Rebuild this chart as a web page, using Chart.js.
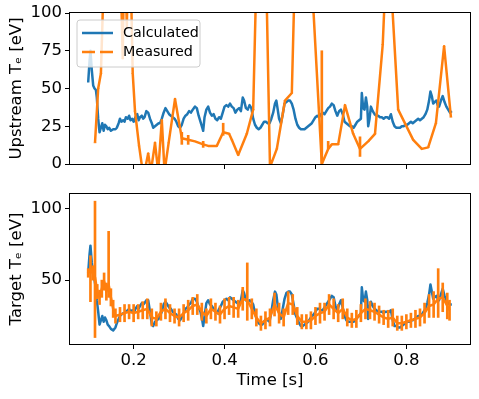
<!DOCTYPE html>
<html>
<head>
<meta charset="utf-8">
<script src="https://cdn.jsdelivr.net/npm/chart.js@4"></script>
<style>
  body { margin: 0; background: #fff; }
  #wrap { position: relative; width: 479px; height: 399px; }
  canvas { position: absolute; left: 0; }
</style>
</head>
<body>
<div id="wrap">
  <canvas id="upper" width="479" height="180" style="top:0"></canvas>
  <canvas id="lower" width="479" height="219" style="top:180px"></canvas>
</div>
<script>
// time base of the model runs
const calcTime = [
  0.100, 0.103, 0.105, 0.108, 0.111, 0.114, 0.117, 0.119, 0.122, 0.125, 0.128, 0.131, 0.134, 0.137, 0.140, 0.143,
  0.146, 0.150, 0.155, 0.160, 0.163, 0.167, 0.170, 0.173, 0.177, 0.180, 0.183, 0.187, 0.190, 0.193, 0.197, 0.200,
  0.204, 0.208, 0.211, 0.214, 0.218, 0.221, 0.224, 0.228, 0.232, 0.236, 0.240, 0.243, 0.247, 0.251, 0.255, 0.258,
  0.262, 0.266, 0.270, 0.274, 0.278, 0.282, 0.286, 0.290, 0.294, 0.298, 0.302, 0.306, 0.310, 0.314, 0.318, 0.322,
  0.326, 0.330, 0.335, 0.339, 0.343, 0.347, 0.351, 0.353, 0.356, 0.360, 0.364, 0.368, 0.372, 0.376, 0.380, 0.384,
  0.388, 0.392, 0.396, 0.400, 0.404, 0.408, 0.412, 0.416, 0.420, 0.424, 0.428, 0.432, 0.436, 0.440, 0.443, 0.447,
  0.451, 0.455, 0.459, 0.463, 0.467, 0.471, 0.475, 0.479, 0.483, 0.487, 0.491, 0.495, 0.499, 0.503, 0.507, 0.511,
  0.514, 0.517, 0.520, 0.524, 0.528, 0.532, 0.536, 0.540, 0.544, 0.548, 0.552, 0.556, 0.560, 0.564, 0.568, 0.572,
  0.576, 0.580, 0.584, 0.588, 0.592, 0.596, 0.600, 0.604, 0.608, 0.612, 0.616, 0.620, 0.624, 0.628, 0.632, 0.636,
  0.640, 0.644, 0.648, 0.652, 0.656, 0.660, 0.664, 0.668, 0.672, 0.676, 0.680, 0.684, 0.688, 0.692, 0.696, 0.700,
  0.702, 0.705, 0.708, 0.711, 0.714, 0.716, 0.719, 0.722, 0.726, 0.730, 0.734, 0.738, 0.742, 0.746, 0.750, 0.754,
  0.758, 0.762, 0.766, 0.770, 0.774, 0.778, 0.782, 0.786, 0.790, 0.794, 0.798, 0.802, 0.806, 0.810, 0.814, 0.818,
  0.822, 0.826, 0.830, 0.834, 0.838, 0.842, 0.846, 0.850, 0.853, 0.856, 0.859, 0.862, 0.866, 0.869, 0.872, 0.876,
  0.880, 0.884, 0.888, 0.892, 0.896, 0.900
];
const upCalc = [
  54, 68, 75, 62, 52, 50, 49, 44, 30, 21, 24, 27, 22, 26, 25, 23,
  24, 22, 23, 23, 24, 27, 30, 28, 29, 28, 31, 30, 32, 29, 30, 28,
  31, 33, 29, 31, 32, 30, 31, 35, 34, 30, 27, 24, 25, 26, 27, 27,
  30, 34, 37, 35, 33, 32, 31, 30, 28, 25, 24, 26, 30, 32, 33, 35,
  34, 36, 38, 37, 32, 28, 24, 22, 31, 36, 38, 34, 32, 33, 30, 29,
  31, 30, 34, 38, 39, 38, 40, 38, 37, 34, 36, 37, 35, 44, 42, 37,
  36, 39, 37, 30, 26, 24, 23, 24, 26, 28, 28, 27, 27, 30, 34, 40,
  42, 36, 30, 27, 33, 40, 41, 42, 42, 40, 36, 30, 26, 24, 23, 23,
  23, 24, 25, 26, 27, 29, 31, 32, 31, 33, 34, 33, 35, 37, 38, 40,
  39, 35, 32, 35, 36, 33, 28, 27, 26, 25, 25, 24, 26, 28, 29, 30,
  47, 37, 36, 44, 38, 25, 30, 38, 35, 33, 32, 32, 31, 31, 30, 31,
  31, 30, 33, 28, 25, 24, 24, 24, 25, 25, 26, 26, 27, 28, 27, 28,
  29, 30, 29, 30, 31, 33, 36, 42, 48, 45, 40, 41, 42, 39, 38, 42,
  45, 41, 38, 36, 34, 35
];
const tgtCalc = [
  55, 68, 74, 62, 54, 50, 44, 36, 28, 19, 22, 25, 21, 24, 22, 19,
  18, 16, 15, 17, 20, 23, 25, 26, 27, 27, 28, 29, 30, 28, 29, 27,
  30, 32, 30, 32, 34, 33, 34, 36, 36, 28, 19, 18, 21, 22, 23, 25,
  28, 33, 35, 33, 31, 30, 28, 27, 26, 23, 22, 24, 27, 30, 31, 33,
  34, 37, 37, 35, 31, 28, 22, 18, 25, 34, 36, 33, 32, 30, 28, 27,
  30, 32, 35, 36, 37, 36, 38, 37, 36, 35, 34, 33, 36, 43, 41, 36,
  35, 36, 35, 33, 27, 22, 20, 19, 19, 21, 23, 22, 21, 28, 36, 42,
  40, 32, 27, 23, 30, 37, 41, 42, 42, 40, 33, 26, 23, 20, 18, 18,
  19, 20, 21, 23, 25, 26, 28, 30, 30, 29, 29, 31, 33, 35, 37, 39,
  38, 32, 29, 33, 36, 31, 25, 22, 21, 21, 21, 21, 22, 24, 25, 27,
  45, 36, 35, 42, 36, 23, 31, 35, 32, 30, 29, 28, 28, 28, 27, 28,
  28, 28, 29, 22, 18, 18, 17, 17, 18, 19, 20, 21, 21, 22, 22, 23,
  24, 25, 25, 26, 28, 30, 34, 40, 47, 42, 37, 38, 39, 37, 36, 40,
  44, 39, 36, 34, 33, 33
];

// upstream probe
const upMeasTime = [
  0.115, 0.122, 0.128, 0.140, 0.160, 0.172, 0.176, 0.180, 0.185, 0.190, 0.198, 0.203, 0.212, 0.220, 0.226, 0.232,
  0.238, 0.247, 0.254, 0.262, 0.268, 0.277, 0.291, 0.306, 0.320, 0.335, 0.353, 0.364, 0.383, 0.397, 0.410, 0.416,
  0.430, 0.449, 0.463, 0.480, 0.492, 0.500, 0.515, 0.533, 0.548, 0.565, 0.585, 0.614, 0.628, 0.636, 0.650, 0.665,
  0.683, 0.698, 0.716, 0.731, 0.748, 0.758, 0.768, 0.782, 0.815, 0.834, 0.848, 0.865, 0.883, 0.898
];
const upMeas = [
  14, 50, 60, 180, 300, 120, 70, 160, 90, 180, 60, 35, 12, -5, -2, 7,
  -5, 14, -5, 29, -5, 14, 43, 17, 16, 15, 13, 12, 12, 21, 20, 16,
  6, 20, 36, 250, 120, -2, 10, 42, 47, 250, 160, 0, 10, 13, 13, 39,
  20, 10, 15, 20, 79, 150, 110, 36, 16, 10, 11, 27, 78, 31
];
const upErrLo = [
  0, 0, 0, 0, 0, 0, 0, 0, 0, 0, 0, 0, 0, 0, 0, 0,
  0, 0, 0, 0, 0, 0, 0, 4, 3, 0, 2, 0, 0, 2, 0, 0,
  0, 0, 0, 0, 0, 0, 0, 0, 0, 0, 0, 0, 0, 0, 0, 0,
  0, 5, 0, 0, 0, 0, 0, 0, 0, 0, 0, 0, 0, 0
];
const upErrHi = [
  0, 0, 0, 0, 0, 0, 0, 0, 0, 0, 0, 0, 0, 0, 0, 0,
  0, 0, 0, 0, 0, 0, 0, 4, 3, 0, 2, 0, 0, 6, 0, 0,
  0, 0, 0, 0, 0, 0, 0, 0, 0, 0, 0, 75, 5, 0, 0, 0,
  0, 8, 0, 0, 0, 0, 0, 0, 0, 0, 0, 0, 0, 0
];

// target probe
const tgtMeasTime = [
  0.100, 0.105, 0.110, 0.115, 0.120, 0.125, 0.130, 0.135, 0.140, 0.145, 0.150, 0.155, 0.160,
  0.17, 0.18, 0.19, 0.20, 0.21, 0.22, 0.23, 0.24, 0.25, 0.26, 0.27, 0.28, 0.29, 0.30,
  0.31, 0.32, 0.33, 0.34, 0.35, 0.36, 0.37, 0.38, 0.39, 0.40, 0.41, 0.42, 0.43, 0.44,
  0.45, 0.46, 0.47, 0.48, 0.49, 0.50, 0.51, 0.52, 0.53, 0.54, 0.55, 0.56, 0.57, 0.58,
  0.59, 0.60, 0.61, 0.62, 0.63, 0.64, 0.65, 0.66, 0.67, 0.68, 0.69, 0.70, 0.71, 0.72,
  0.73, 0.74, 0.75, 0.76, 0.77, 0.78, 0.79, 0.80, 0.81, 0.82, 0.83, 0.84, 0.85, 0.86,
  0.87, 0.88, 0.89, 0.895
];
const tgtMeas = [
  55, 57, 55, 52, 42, 38, 44, 49, 42, 47, 38, 30, 25,
  26, 27, 28, 27, 28, 29, 30, 24, 23, 28, 30, 27, 25, 24,
  27, 29, 32, 33, 28, 25, 30, 28, 26, 30, 32, 31, 30, 37,
  36, 30, 24, 20, 22, 24, 33, 27, 24, 34, 33, 25, 21, 21,
  22, 25, 27, 28, 33, 30, 27, 30, 24, 22, 23, 27, 30, 29,
  28, 26, 24, 23, 24, 20, 20, 21, 22, 23, 24, 27, 32, 33,
  37, 38, 32, 29
];
const tgtErrLo = [
  3, 22, 5, 42, 5, 5, 6, 6, 6, 9, 6, 6, 5,
  5, 6, 5, 6, 5, 6, 7, 6, 5, 6, 7, 6, 5, 6,
  6, 7, 6, 7, 6, 5, 7, 6, 6, 7, 6, 7, 6, 8,
  14, 7, 6, 5, 6, 6, 8, 7, 6, 8, 7, 6, 5, 5,
  6, 6, 7, 6, 7, 7, 6, 7, 6, 5, 6, 6, 7, 6,
  6, 6, 5, 6, 6, 5, 5, 5, 5, 6, 6, 7, 8, 9,
  13, 10, 9, 7
];
const tgtErrHi = [
  3, 10, 5, 53, 5, 5, 6, 6, 6, 37, 6, 6, 5,
  5, 6, 5, 6, 5, 6, 7, 6, 5, 6, 7, 6, 5, 6,
  6, 7, 6, 7, 6, 5, 7, 6, 6, 7, 6, 7, 6, 8,
  26, 7, 6, 5, 6, 6, 8, 7, 6, 8, 7, 6, 5, 5,
  6, 6, 7, 6, 7, 7, 6, 7, 6, 5, 6, 6, 7, 6,
  6, 6, 5, 6, 6, 5, 5, 5, 5, 6, 6, 7, 8, 9,
  21, 10, 9, 7
];

const xTicks = [0.2, 0.4, 0.6, 0.8];
const upTicks = [0, 25, 50, 75, 100];
const tgtTicks = [50, 100];

const BLUE = "#1f77b4";
const ORANGE = "#ff7f0e";
const FONT = "'DejaVu Sans', sans-serif";

function points(xs, ys) {
  return xs.map((x, i) => ({ x: x, y: ys[i] }));
}

function errBars(xs, ys, lo, hi) {
  return xs.map((x, i) => ({ x: x, y: [ys[i] - lo[i], ys[i] + hi[i]] }));
}

// box round the plot area, like matplotlib spines
const framePlugin = {
  id: "frame",
  afterDraw(chart) {
    const a = chart.chartArea;
    const ctx = chart.ctx;
    ctx.save();
    ctx.strokeStyle = "#000";
    ctx.lineWidth = 1;
    ctx.strokeRect(Math.round(a.left) - 0.5, Math.round(a.top) - 0.5,
      Math.round(a.right - a.left) + 1, Math.round(a.bottom - a.top) + 1);
    ctx.restore();
  }
};

// matplotlib style legend in the upper left corner
const legendPlugin = {
  id: "boxLegend",
  afterDraw(chart) {
    const ctx = chart.ctx;
    const x = 77, y = 20, w = 123, h = 47, r = 3;
    ctx.save();
    ctx.beginPath();
    ctx.moveTo(x + r, y);
    ctx.arcTo(x + w, y, x + w, y + h, r);
    ctx.arcTo(x + w, y + h, x, y + h, r);
    ctx.arcTo(x, y + h, x, y, r);
    ctx.arcTo(x, y, x + w, y, r);
    ctx.closePath();
    ctx.fillStyle = "rgba(255,255,255,0.8)";
    ctx.fill();
    ctx.strokeStyle = "#cccccc";
    ctx.lineWidth = 1;
    ctx.stroke();

    ctx.lineWidth = 2.5;
    ctx.strokeStyle = BLUE;
    ctx.beginPath();
    ctx.moveTo(82, 33);
    ctx.lineTo(113, 33);
    ctx.stroke();

    ctx.strokeStyle = ORANGE;
    ctx.beginPath();
    ctx.moveTo(82, 52);
    ctx.lineTo(95, 52);
    ctx.moveTo(100, 52);
    ctx.lineTo(113, 52);
    ctx.stroke();

    ctx.fillStyle = "#000";
    ctx.font = "14.3px " + FONT;
    ctx.textBaseline = "middle";
    ctx.fillText("Calculated", 123, 33);
    ctx.fillText("Measured", 123, 52);
    ctx.restore();
  }
};

function makeChart(id, cfg) {
  const ctx = document.getElementById(id).getContext("2d");
  const tickFont = { family: FONT, size: 16.5 };
  return new Chart(ctx, {
    type: "line",
    data: {
      datasets: [
        {
          label: "Calculated",
          data: points(calcTime, cfg.calc),
          borderColor: BLUE,
          borderWidth: 2.5,
          pointRadius: 0,
          tension: 0,
          borderJoinStyle: "round",
          clip: 0,
          order: 3
        },
        {
          type: "bar",
          label: "Measured error",
          data: errBars(cfg.measTime, cfg.meas, cfg.lo, cfg.hi),
          backgroundColor: ORANGE,
          borderWidth: 0,
          barThickness: 2,
          clip: 0,
          order: 2
        },
        {
          label: "Measured",
          data: points(cfg.measTime, cfg.meas),
          borderColor: ORANGE,
          borderWidth: 2.5,
          pointRadius: 0,
          tension: 0,
          borderJoinStyle: "round",
          clip: 0,
          order: 1
        }
      ]
    },
    options: {
      responsive: false,
      devicePixelRatio: 1,
      animation: false,
      events: [],
      layout: { padding: cfg.padding },
      plugins: {
        legend: { display: false },
        tooltip: { enabled: false }
      },
      scales: {
        x: {
          type: "linear",
          min: 0.06,
          max: 0.94,
          offset: false,
          afterBuildTicks: s => { s.ticks = xTicks.map(v => ({ value: v })); },
          afterFit: s => { s.height = cfg.xHeight; },
          grid: { offset: false, drawOnChartArea: false, drawTicks: true, tickLength: 5, color: "#000" },
          border: { display: false },
          ticks: {
            display: cfg.showX,
            autoSkip: false,
            maxRotation: 0,
            padding: 2,
            color: "#000",
            font: tickFont,
            callback: v => v.toFixed(1)
          },
          title: {
            display: cfg.showX,
            text: "Time [s]",
            color: "#000",
            font: tickFont,
            padding: 0
          }
        },
        y: {
          type: "linear",
          min: cfg.yMin,
          max: cfg.yMax,
          afterBuildTicks: s => { s.ticks = cfg.yTicks.map(v => ({ value: v })); },
          afterFit: s => { s.width = 70; },
          grid: { offset: false, drawOnChartArea: false, drawTicks: true, tickLength: 5, color: "#000" },
          border: { display: false },
          ticks: {
            autoSkip: false,
            padding: 3,
            color: "#000",
            font: tickFont
          },
          title: {
            display: true,
            text: cfg.yTitle,
            color: "#000",
            font: tickFont,
            padding: { top: 7, bottom: 0 }
          }
        }
      }
    },
    plugins: cfg.legend ? [framePlugin, legendPlugin] : [framePlugin]
  });
}

makeChart("upper", {
  calc: upCalc,
  measTime: upMeasTime,
  meas: upMeas,
  lo: upErrLo,
  hi: upErrHi,
  yMin: 0,
  yMax: 100,
  yTicks: upTicks,
  yTitle: "Upstream Tₑ [eV]",
  showX: false,
  xHeight: 16,
  padding: { top: 13, right: 9, bottom: 0, left: 0 },
  legend: true
});

makeChart("lower", {
  calc: tgtCalc,
  measTime: tgtMeasTime,
  meas: tgtMeas,
  lo: tgtErrLo,
  hi: tgtErrHi,
  yMin: 5.5,
  yMax: 110,
  yTicks: tgtTicks,
  yTitle: "Target Tₑ [eV]",
  showX: true,
  xHeight: 47,
  padding: { top: 14, right: 9, bottom: 8, left: 0 },
  legend: false
});
</script>
</body>
</html>
